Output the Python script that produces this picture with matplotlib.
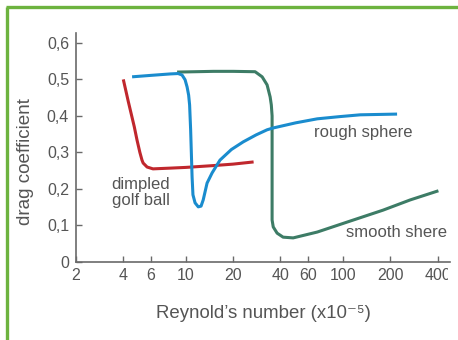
import matplotlib
matplotlib.use("Agg")
import matplotlib.pyplot as plt
from matplotlib.lines import Line2D
from matplotlib.transforms import Bbox, TransformedBbox

plt.rcParams['font.family'] = ['Liberation Sans', 'DejaVu Sans']

# Data (Reynolds number x1e-5, drag coefficient)
golf_re = [4.0, 4.3, 4.7, 4.89, 5.1, 5.26, 5.35, 5.67, 6.18, 7.94, 10, 15, 20, 27]
golf_cd = [0.50, 0.44, 0.37, 0.334, 0.30, 0.279, 0.271, 0.260, 0.255, 0.257, 0.259, 0.264, 0.268, 0.274]

rough_re = [4.55, 6.0, 8.0, 8.93, 9.46, 9.89, 10.19, 10.42, 10.57, 10.73, 10.96, 11.1, 11.45, 12.0, 12.5, 12.9,
            13.65, 14.7, 16.5, 19.5, 23.2, 28.0, 32.9, 36.0, 50.0, 68.6, 95.0, 128.8, 221]
rough_cd = [0.507, 0.511, 0.515, 0.516, 0.512, 0.499, 0.479, 0.457, 0.430, 0.362, 0.233, 0.184, 0.162, 0.151,
            0.153, 0.170, 0.216, 0.244, 0.279, 0.308, 0.329, 0.348, 0.362, 0.367, 0.381, 0.392, 0.398, 0.403, 0.405]

smooth_re = [8.8, 15.0, 20.0, 27.6, 30.6, 32.9, 34.4, 35.0, 35.4, 35.4, 36.0, 38.1, 41.6, 48.2, 57.5,
             68.6, 111, 180, 268, 405]
smooth_cd = [0.520, 0.522, 0.522, 0.521, 0.507, 0.485, 0.452, 0.430, 0.400, 0.115, 0.096, 0.079, 0.068, 0.066, 0.074,
             0.082, 0.112, 0.142, 0.170, 0.195]

x_ticks = [2, 4, 6, 10, 20, 40, 60, 100, 200, 400]
x_tick_labels = ['2', '4', '6', '10', '20', '40', '60', '100', '200', '400']
y_ticks = [0, 0.1, 0.2, 0.3, 0.4, 0.5, 0.6]
y_tick_labels = ['0', '0,1', '0,2', '0,3', '0,4', '0,5', '0,6']

W, H = 458, 340
fig = plt.figure(figsize=(W / 100, H / 100), dpi=100)
ax = fig.add_axes([76 / W, (H - 262) / H, (450 - 76) / W, (262 - 33) / H])

red = '#c0272d'
blue = '#1a8cce'
green = '#3d7c66'
gray = '#555555'
axis_col = '#6a6a6a'

kw = dict(lw=2.2, solid_capstyle='butt', solid_joinstyle='round')
ax.plot(golf_re, golf_cd, color=red, **kw)
ax.plot(smooth_re, smooth_cd, color=green, **kw)
ax.plot(rough_re, rough_cd, color=blue, **kw)

ax.set_xscale('log')
ax.set_xlim(2, 480)
ax.set_ylim(0, 0.627)
ax.set_xticks(x_ticks)
ax.set_xticklabels(x_tick_labels)
ax.minorticks_off()
ax.set_yticks(y_ticks)
ax.set_yticklabels(y_tick_labels)

for s in ['top', 'right']:
    ax.spines[s].set_visible(False)
for s in ['left', 'bottom']:
    ax.spines[s].set_color(axis_col)
    ax.spines[s].set_linewidth(1.2)

ax.tick_params(axis='both', direction='in', length=4, width=1, color=axis_col,
               labelcolor=gray, labelsize=11.5)
ax.tick_params(axis='y', pad=5)
ax.tick_params(axis='x', pad=4)

ax.set_xlabel('Reynold\u2019s number (x10\u207b\u2075)', fontsize=13.4, color=gray, labelpad=16)
ax.set_ylabel('drag coefficient', fontsize=13.6, color=gray)
ax.yaxis.set_label_coords(-0.113, 0.437)


def re_at(px):
    return 10 ** (0.30103 + (px - 76) / 157)


ax.text(re_at(314), 0.355, 'rough sphere', fontsize=12, color=gray, ha='left', va='center')
ax.text(re_at(346), 0.082, 'smooth shere', fontsize=12, color=gray, ha='left', va='center')
ax.text(re_at(141), 0.19, 'dimpled\ngolf ball', fontsize=12, color=gray,
        ha='center', va='center', linespacing=1.05)

# green frame lines
frame_col = '#6db33f'
fig.add_artist(Line2D([7 / W, 7 / W], [0, 1 - 7 / H], color=frame_col, lw=2.4,
                      transform=fig.transFigure, solid_capstyle='butt'))
fig.add_artist(Line2D([5.8 / W, 1], [1 - 7 / H, 1 - 7 / H], color=frame_col, lw=2.4,
                      transform=fig.transFigure, solid_capstyle='butt'))

fig.canvas.draw()
clip = TransformedBbox(Bbox([[0, 0], [448 / W, 1]]), fig.transFigure)
for t in ax.xaxis.get_major_ticks():
    t.label1.set_clip_on(True)
    t.label1.set_clip_box(clip)

fig.savefig('out.png', dpi=100)
